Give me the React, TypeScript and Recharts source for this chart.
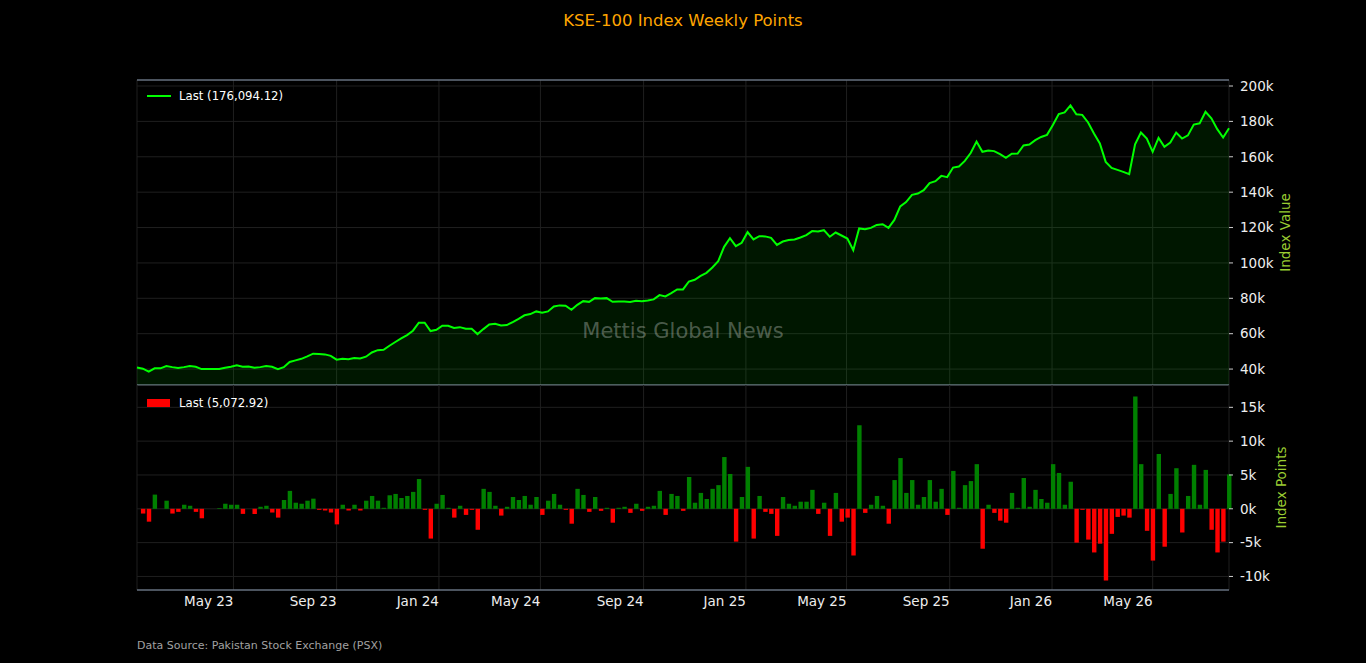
import { ComposedChart, Area, Bar, Cell, XAxis, YAxis, CartesianGrid, ReferenceLine, Legend } from 'recharts'

// weekly Friday closes, first week of the series
const firstFriday = Date.UTC(2023, 0, 6)
const WEEK = 7 * 24 * 3600 * 1000

// KSE-100 close, thousands of points
const close2023 = [
  40.9, 40.2, 38.5, 40.4, 40.4, 41.7, 41.1, 40.6, 41.1, 41.7, 41.3, 40.0, 40.0,
  40.0, 40.0, 40.8, 41.3, 42.1, 41.3, 41.5, 40.8, 41.1, 41.7, 41.3, 40.0, 41.1,
  44.0, 44.9, 45.8, 47.2, 48.7, 48.5, 48.3, 47.5, 45.3, 45.8, 45.6, 46.2, 46.0,
  47.0, 49.4, 50.7, 50.9, 53.2, 55.3, 57.3, 59.2, 61.7, 66.2, 66.2, 61.5, 62.2,
]
const close2024 = [
  64.5, 64.5, 63.2, 63.7, 62.8, 62.8, 59.8, 62.6, 65.2, 65.6, 64.7, 64.9, 66.6,
  68.4, 70.4, 71.1, 72.6, 71.8, 72.6, 75.4, 76.0, 75.8, 73.5, 76.3, 78.4, 78.0,
  80.1, 79.9, 80.1, 78.0, 78.2, 78.2, 77.9, 78.6, 78.4, 78.8, 79.4, 81.8, 81.1,
  82.9, 85.0, 85.0, 89.5, 90.5, 92.7, 94.4, 97.4, 101.0, 109.1, 114.0, 109.5, 111.4,
]
const close2025 = [
  117.4, 113.3, 115.1, 115.0, 114.2, 110.2, 112.1, 112.9, 113.3, 114.4, 115.7, 118.0, 117.8,
  118.5, 114.8, 117.2, 115.5, 113.8, 107.2, 119.5, 119.1, 119.8, 121.5, 121.9, 119.8, 124.3,
  132.0, 134.4, 138.5, 139.2, 141.1, 145.1, 146.2, 149.2, 148.5, 153.9, 154.5, 157.7, 162.1,
  168.6, 162.8, 163.5, 163.2, 161.5, 159.4, 161.7, 161.8, 166.4, 166.9, 169.4, 171.2, 172.4,
]
const close2026 = [
  178.0, 184.1, 185.1, 189.0, 184.0, 183.7, 179.4, 173.2, 167.5, 157.1, 153.7, 152.6, 151.5,
  150.2, 167.1, 173.7, 170.3, 162.8, 170.7, 165.6, 168.0, 173.7, 170.3, 172.1, 178.2, 178.9,
  185.4, 181.8, 175.6, 170.9, 176.09412,
]

// weekly change, thousands of points
const change2023 = [
  null, -0.7, -1.9, 2.1, 0, 1.2, -0.7, -0.45, 0.6, 0.45, -0.45, -1.4, 0,
  0, 0.1, 0.75, 0.6, 0.6, -0.75, 0, -0.75, 0.3, 0.45, -0.55, -1.3, 1.3,
  2.65, 0.9, 0.75, 1.2, 1.5, -0.15, -0.25, -0.55, -2.3, 0.6, -0.25, 0.6, -0.25,
  1.2, 1.9, 1.2, 0.15, 2.0, 2.2, 1.6, 1.9, 2.5, 4.4, -0.15, -4.4, 0.75,
]
const change2024 = [
  2.05, 0.15, -1.3, 0.45, -0.9, -0.15, -3.1, 2.95, 2.5, 0.45, -1.0, 0.3, 1.75,
  1.3, 1.9, 0.6, 1.75, -0.9, 1.2, 2.2, 0.6, -0.15, -2.2, 2.95, 2.05, -0.45,
  1.75, -0.3, 0.15, -2.05, 0.15, 0.3, -0.6, 0.75, -0.3, 0.3, 0.45, 2.65, -0.9,
  2.2, 1.9, -0.3, 4.7, 0.9, 2.35, 1.45, 2.95, 3.5, 7.65, 5.15, -4.85, 1.75,
]
const change2025 = [
  6.2, -4.4, 1.9, -0.45, -0.75, -4.0, 1.75, 0.75, 0.45, 1.05, 1.05, 2.8, -0.75,
  0.9, -4.0, 2.35, -1.9, -1.3, -6.9, 12.35, -0.6, 0.6, 1.9, 0.45, -2.2, 4.25,
  7.5, 2.35, 4.25, 0.6, 1.75, 4.25, 1.05, 2.95, -0.9, 5.6, 0.15, 3.5, 4.1,
  6.6, -5.9, 0.6, -0.6, -1.75, -2.05, 2.35, 0.15, 4.55, 0.3, 2.8, 1.45, 0.9,
]
const change2026 = [
  6.6, 5.3, 0.6, 4.0, -5.0, -0.15, -4.55, -6.45, -5.15, -10.6, -3.7, -1.2, -1.0,
  -1.3, 16.6, 6.6, -3.25, -7.65, 8.1, -5.6, 2.2, 6.0, -3.5, 1.9, 6.5, 0.6,
  5.75, -3.1, -6.45, -4.85, 5.07292,
]

const monthTicks = [
  Date.UTC(2023, 4, 1), Date.UTC(2023, 8, 1), Date.UTC(2024, 0, 1), Date.UTC(2024, 4, 1),
  Date.UTC(2024, 8, 1), Date.UTC(2025, 0, 1), Date.UTC(2025, 4, 1), Date.UTC(2025, 8, 1),
  Date.UTC(2026, 0, 1), Date.UTC(2026, 4, 1),
]
const monthLabels = ['May 23', 'Sep 23', 'Jan 24', 'May 24', 'Sep 24', 'Jan 25', 'May 25', 'Sep 25', 'Jan 26', 'May 26']

const valueTicks = [40000, 60000, 80000, 100000, 120000, 140000, 160000, 180000, 200000]
const pointTicks = [-10000, -5000, 0, 5000, 10000, 15000]

const closeK = [...close2023, ...close2024, ...close2025, ...close2026]
const changeK = [...change2023, ...change2024, ...change2025, ...change2026]

const data = closeK.map((c, i) => ({
  t: firstFriday + i * WEEK,
  close: c * 1000,
  change: changeK[i] == null ? null : (changeK[i] as number) * 1000,
}))

const xDomain = [data[0].t, data[data.length - 1].t]
const lastClose = data[data.length - 1].close
const lastChange = data[data.length - 1].change as number

const fmt2 = (v: number) => v.toLocaleString('en-US', { minimumFractionDigits: 2, maximumFractionDigits: 2 })
const kFmt = (v: number) => `${Math.round(v / 1000)}k`

const GRID = '#1f1f1f'
const SPINE = '#8a9ab0'
const TICK = '#eeeeee'
const LABEL = '#9acd32'
const FONT = 'DejaVu Sans, sans-serif'

const MonthTick = (props: any) => {
  const { x, y, payload } = props
  const idx = monthTicks.indexOf(payload.value)
  return (
    <text x={x} y={y + 15.5} textAnchor="end" fill={TICK} fontSize={13.5}>
      {monthLabels[idx]}
    </text>
  )
}

const NoTick = () => <g />

const sideLabel = (text: string, dx: number) => (props: any) => {
  const { x, y, height } = props.viewBox
  const cx = x + dx
  const cy = y + height / 2
  return (
    <text x={cx} y={cy} transform={`rotate(-90, ${cx}, ${cy})`} textAnchor="middle" dominantBaseline="central" fill={LABEL} fontSize={13.5}>
      {text}
    </text>
  )
}

const LineLegend = () => (
  <div style={{ display: 'flex', alignItems: 'center', height: 14, whiteSpace: 'nowrap' }}>
    <span style={{ display: 'inline-block', width: 24, height: 2, background: '#00ff00', marginRight: 8 }} />
    <span style={{ color: '#ffffff', fontSize: 11.7 }}>Last ({fmt2(lastClose)})</span>
  </div>
)

const BarLegend = () => (
  <div style={{ display: 'flex', alignItems: 'center', height: 14, whiteSpace: 'nowrap' }}>
    <span style={{ display: 'inline-block', width: 23, height: 8, background: '#ff0000', marginRight: 9 }} />
    <span style={{ color: '#ffffff', fontSize: 11.7 }}>Last ({fmt2(lastChange)})</span>
  </div>
)

export default function App() {
  return (
    <div style={{ position: 'absolute', left: 0, top: 0, width: 1366, height: 663, background: '#000', fontFamily: FONT, overflow: 'hidden' }}>
      <div style={{ position: 'absolute', left: 0, top: 11, width: 1366, textAlign: 'center', color: '#ffa500', fontSize: 16.5, lineHeight: '20px' }}>
        KSE-100 Index Weekly Points
      </div>

      {/* index level panel */}
      <div style={{ position: 'absolute', left: 0, top: 0 }}>
        <ComposedChart width={1366} height={386} data={data} margin={{ top: 80, right: 77, left: 137, bottom: 0 }}>
          <CartesianGrid stroke={GRID} />
          <XAxis
            dataKey="t"
            type="number"
            domain={xDomain}
            ticks={monthTicks}
            interval={0}
            height={1}
            tick={<NoTick />}
            tickLine={false}
            tickSize={0}
            axisLine={{ stroke: SPINE, strokeWidth: 1.2 }}
          />
          <YAxis
            orientation="right"
            width={60}
            domain={[31000, 203400]}
            ticks={valueTicks}
            interval={0}
            tickFormatter={kFmt}
            axisLine={false}
            tickLine={{ stroke: '#cccccc' }}
            tickSize={4}
            tickMargin={7}
            tick={{ fill: TICK, fontSize: 13.5 }}
            label={sideLabel('Index Value', 56)}
          />
          <ReferenceLine y={203400} stroke={SPINE} strokeWidth={1.2} />
          <Area
            type="linear"
            dataKey="close"
            stroke="#00ff00"
            strokeWidth={2}
            fill="#00ff00"
            fillOpacity={0.09}
            isAnimationActive={false}
            dot={false}
            activeDot={false}
          />
          <Legend layout="horizontal" align="center" verticalAlign="middle" wrapperStyle={{ left: 147, top: 89, width: 200 }} content={LineLegend} />
        </ComposedChart>
      </div>

      {/* weekly change panel */}
      <div style={{ position: 'absolute', left: 0, top: 385 }}>
        <ComposedChart width={1366} height={278} data={data} margin={{ top: 0, right: 77, left: 137, bottom: 43 }}>
          <CartesianGrid stroke={GRID} />
          <XAxis
            dataKey="t"
            type="number"
            domain={xDomain}
            ticks={monthTicks}
            interval={0}
            height={30}
            tickLine={false}
            tickSize={0}
            tickMargin={0}
            tick={<MonthTick />}
            axisLine={{ stroke: SPINE, strokeWidth: 1.2 }}
          />
          <YAxis
            orientation="right"
            width={60}
            domain={[-12000, 18300]}
            ticks={pointTicks}
            interval={0}
            tickFormatter={kFmt}
            axisLine={false}
            tickLine={{ stroke: '#cccccc' }}
            tickSize={4}
            tickMargin={7}
            tick={{ fill: TICK, fontSize: 13.5 }}
            label={sideLabel('Index Points', 52)}
          />
          <Bar dataKey="change" barSize={4.4} isAnimationActive={false}>
            {data.map((d, i) => (
              <Cell key={i} fill={(d.change ?? 0) >= 0 ? '#008000' : '#ff0000'} />
            ))}
          </Bar>
          <Legend layout="horizontal" align="center" verticalAlign="middle" wrapperStyle={{ left: 147, top: 11, width: 200 }} content={BarLegend} />
        </ComposedChart>
      </div>

      <div style={{ position: 'absolute', left: 0, top: 318, width: 1366, textAlign: 'center', color: 'rgba(255,255,255,0.3)', fontSize: 21, lineHeight: '26px', pointerEvents: 'none' }}>
        Mettis Global News
      </div>

      <div style={{ position: 'absolute', left: 137, top: 639, color: '#a0a0a0', fontSize: 11, lineHeight: '14px' }}>
        Data Source: Pakistan Stock Exchange (PSX)
      </div>
    </div>
  )
}
